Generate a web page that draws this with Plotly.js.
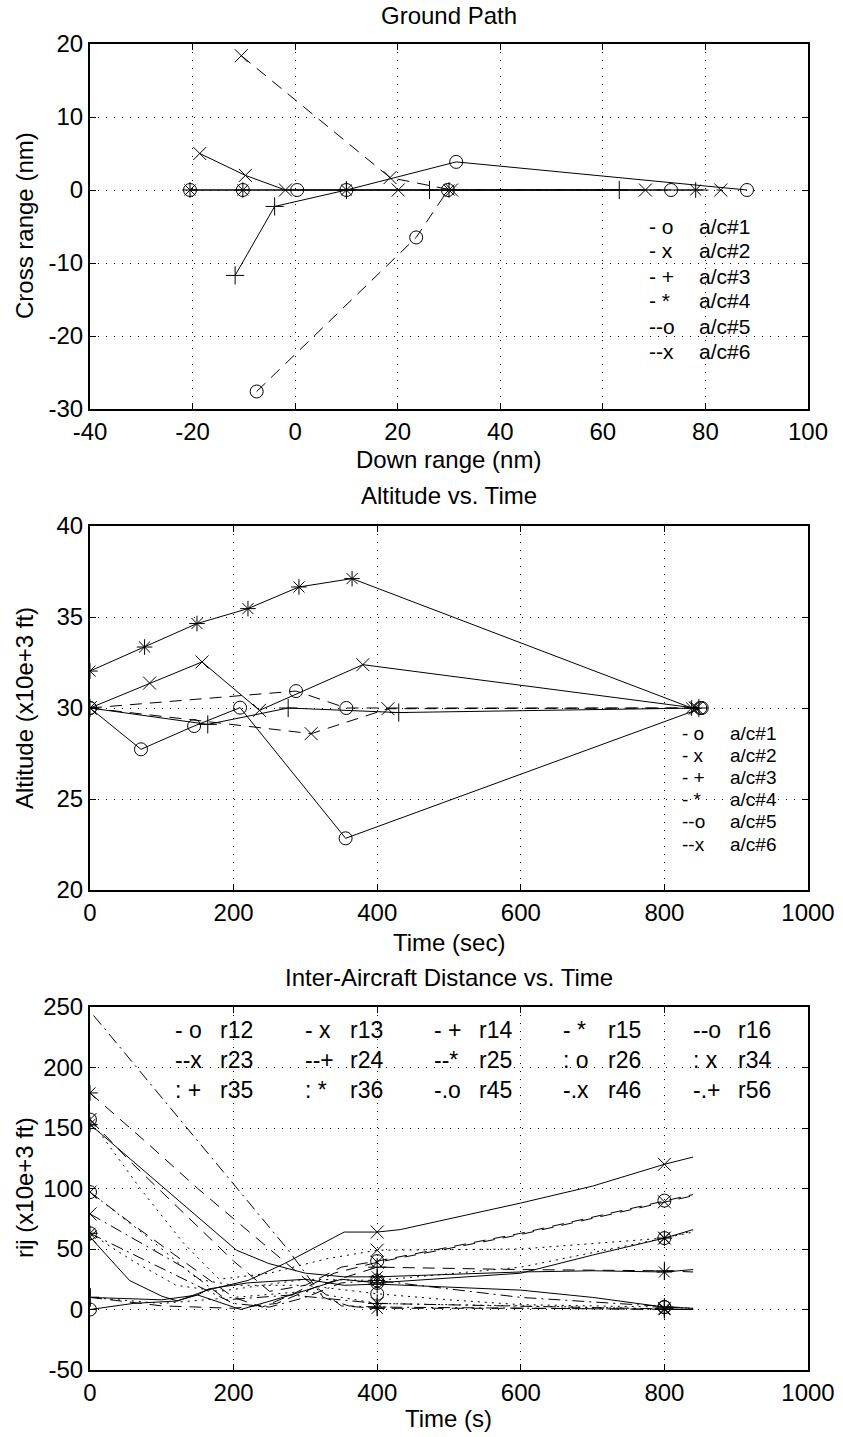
<!DOCTYPE html>
<html><head><meta charset="utf-8">
<script src="https://cdn.plot.ly/plotly-3.0.1.min.js"></script>
<style>html,body{margin:0;padding:0;background:#fff;}#chart{width:843px;height:1437px;}</style>
</head><body><div id="chart"></div>
<script>
// ---------- Ground Path (down range, cross range in nm) ----------
const gp_names = ['a/c#1','a/c#2','a/c#3','a/c#4','a/c#5','a/c#6'];
const gp_codes = ['- o','- x','- +','- *','--o','--x'];
const gp1_x = [-20.5, -10.2, 0.4, 10, 31.4, 88.1];
const gp1_y = [0, 0, 0, 0, 3.85, 0];
const gp2_x = [-18.6, -9.7, -1.9, 20.1, 68.3];
const gp2_y = [5.0, 2.0, 0, 0, 0];
const gp3_x = [-11.7, -4.0, 10, 26.2, 63.2];
const gp3_y = [-11.7, -2.25, 0, 0, 0];
const gp4_x = [-20.5, -10.2, 10, 30, 78.1];
const gp4_y = [0, 0, 0, 0, 0];
const gp5_x = [-7.5, 23.6, 29.8, 73.3];
const gp5_y = [-27.6, -6.5, 0, 0];
const gp6_x = [-10.5, 18.5, 30.5, 83];
const gp6_y = [18.4, 1.7, 0, 0];

// ---------- Altitude vs. Time (sec, x10e+3 ft) ----------
const al1_t = [0, 71, 145, 209, 356, 852];
const al1_h = [30, 27.73, 29.01, 30.02, 22.84, 30];
const al2_t = [0, 83, 156, 236, 380, 843];
const al2_h = [30, 31.37, 32.53, 29.87, 32.38, 30];
const al3_t = [0, 164, 276, 430, 848];
const al3_h = [30, 29.1, 30.0, 29.75, 30];
const al4_t = [0, 76, 149, 220, 291, 365, 838];
const al4_h = [32.03, 33.35, 34.64, 35.46, 36.65, 37.11, 30];
const al5_t = [0, 287, 357, 850];
const al5_h = [30, 30.93, 30.0, 30];
const al6_t = [0, 308, 415, 845];
const al6_h = [30, 28.59, 29.96, 30];

// ---------- Inter-Aircraft Distance vs. Time (s, x10e+3 ft) ----------
const rNames = ['r12','r13','r14','r15','r16','r23','r24','r25','r26','r34','r35','r36','r45','r46','r56'];
const rCodes = ['- o','- x','- +','- *','--o','--x','--+','--*',': o',': x',': +',': *','-.o','-.x','-.+'];
const t_r12 = [0, 60, 120, 150, 210, 280, 350, 400, 600, 700, 800, 840];
const v_r12 = [0, 5, 7, 12, 0, 12, 25, 22, 30, 45, 59, 66];
const t_r13 = [0, 55, 100, 122, 163, 220, 271, 354, 400, 432, 600, 700, 800, 840];
const v_r13 = [60, 24, 11, 7, 16, 24, 38, 64, 64, 66, 88, 102, 120, 126];
const t_r14 = [0, 100, 150, 165, 220, 300, 354, 400, 600, 700, 800, 840];
const v_r14 = [10, 8, 12, 17, 22, 25, 20, 21, 16, 10, 2, 1];
const t_r15 = [0, 100, 204, 249, 300, 354, 400, 500, 600, 700, 800, 840];
const v_r15 = [153, 102, 49, 38, 30, 27, 27, 29, 31, 32, 31, 33];
const t_r16 = [0, 60, 130, 200, 250, 300, 350, 400, 600, 800, 840];
const v_r16 = [157, 120, 80, 40, 15, 20, 35, 40, 63, 90, 95];
const t_r23 = [0, 60, 130, 200, 240, 280, 340, 400, 600, 800, 840];
const v_r23 = [97, 70, 40, 10, 2, 12, 30, 39, 62, 89, 94];
const t_r24 = [0, 100, 200, 260, 320, 400, 600, 800, 840];
const v_r24 = [10, 3, 1, 5, 20, 35, 33, 32, 31];
const t_r25 = [0, 75, 150, 230, 300, 350, 400, 600, 800, 840];
const v_r25 = [179, 140, 100, 60, 25, 3, 1, 1, 0, 0];
const t_r26 = [0, 80, 150, 200, 300, 370, 400, 500, 600, 800, 840];
const v_r26 = [97, 60, 25, 20, 20, 15, 13, 8, 4, 2, 1];
const t_r34 = [0, 70, 130, 180, 250, 330, 400, 600, 800, 840];
const v_r34 = [157, 100, 55, 25, 30, 42, 49, 50, 59, 64];
const t_r35 = [0, 100, 200, 300, 350, 400, 600, 800, 840];
const v_r35 = [10, 5, 10, 15, 10, 5, 3, 1, 0];
const t_r36 = [0, 60, 120, 180, 300, 400, 600, 800, 840];
const v_r36 = [63, 40, 20, 15, 25, 24, 35, 59, 65];
const t_r45 = [0, 80, 150, 200, 250, 300, 350, 400, 600, 800, 840];
const v_r45 = [63, 40, 20, 5, 2, 10, 22, 24, 10, 2, 1];
const t_r46 = [0, 70, 130, 190, 280, 400, 600, 800, 840];
const v_r46 = [79, 55, 35, 8, 12, 5, 3, 1, 0];
const t_r56 = [5, 65, 135, 205, 275, 325, 360, 400, 600, 800, 840];
const v_r56 = [243, 200, 150, 100, 50, 10, 3, 2, 1, 0, 0];
const markTimes = [0, 400, 800];

// ---------- tick labels ----------
const x1Ticks = [-40, -20, 0, 20, 40, 60, 80, 100];
const x1Text = ['-40', '-20', '0', '20', '40', '60', '80', '100'];
const y1Ticks = [-30, -20, -10, 0, 10, 20];
const y1Text = ['-30', '-20', '-10', '0', '10', '20'];
const tTicks = [0, 200, 400, 600, 800, 1000];
const tText = ['0', '200', '400', '600', '800', '1000'];
const y2Ticks = [20, 25, 30, 35, 40];
const y2Text = ['20', '25', '30', '35', '40'];
const y3Ticks = [-50, 0, 50, 100, 150, 200, 250];
const y3Text = ['-50', '0', '50', '100', '150', '200', '250'];

// ---------- styling ----------
const W = 843, H = 1437;
const FONT = 'Liberation Sans, Arial, Helvetica, sans-serif';
const DASH = {'-':'solid', '--':'12px,8px', ':':'2px,5px', '-.':'12px,5px,2px,5px'};
const SYM = {o:'circle-open', x:'x-thin-open', '+':'cross-thin-open', '*':'asterisk-open'};
function parseCode(c){ const m = c.replace(/\s/g,''); const s = m.slice(-1); return {dash: DASH[m.slice(0,-1)], sym: SYM[s]}; }
const px = v => v / W, py = v => 1 - v / H;

function axis(d0, d1, range, tv, tt, anchor, isX){
  return {domain: isX ? [px(d0), px(d1)] : [py(d1), py(d0)], range, anchor,
    tickmode:'array', tickvals: tv, ticktext: tt, ticks:'inside', ticklen:6, tickwidth:1, tickcolor:'#000',
    showline:true, linewidth:2, linecolor:'#000', mirror:'allticks',
    showgrid:true, gridcolor:'#000', gridwidth:1, griddash:'1px,7px', zeroline:false,
    tickfont:{family:FONT, size:24, color:'#000'}, automargin:false, fixedrange:true};
}

const traces = [];
const gpX = [gp1_x, gp2_x, gp3_x, gp4_x, gp5_x, gp6_x], gpY = [gp1_y, gp2_y, gp3_y, gp4_y, gp5_y, gp6_y];
const alT = [al1_t, al2_t, al3_t, al4_t, al5_t, al6_t], alH = [al1_h, al2_h, al3_h, al4_h, al5_h, al6_h];
gp_codes.forEach((c, i) => {
  const s = parseCode(c);
  traces.push({x: gpX[i], y: gpY[i], xaxis:'x', yaxis:'y', mode:'lines+markers', name: gp_names[i],
    line:{color:'#000', width:1, dash:s.dash}, marker:{symbol:s.sym, size:13, color:'#000', line:{color:'#000', width:1}}});
  traces.push({x: alT[i], y: alH[i], xaxis:'x2', yaxis:'y2', mode:'lines+markers', name: gp_names[i],
    line:{color:'#000', width:1, dash:s.dash}, marker:{symbol:s.sym, size:13, color:'#000', line:{color:'#000', width:1}}});
});
const rT = [t_r12,t_r13,t_r14,t_r15,t_r16,t_r23,t_r24,t_r25,t_r26,t_r34,t_r35,t_r36,t_r45,t_r46,t_r56];
const rV = [v_r12,v_r13,v_r14,v_r15,v_r16,v_r23,v_r24,v_r25,v_r26,v_r34,v_r35,v_r36,v_r45,v_r46,v_r56];
rCodes.forEach((c, i) => {
  const s = parseCode(c);
  traces.push({x: rT[i], y: rV[i], xaxis:'x3', yaxis:'y3', mode:'lines', name: rNames[i],
    line:{color:'#000', width:1, dash:s.dash}});
  const mx = [], my = [];
  rT[i].forEach((t, k) => { if (markTimes.includes(t)) { mx.push(t); my.push(rV[i][k]); } });
  traces.push({x: mx, y: my, xaxis:'x3', yaxis:'y3', mode:'markers', name: rNames[i], showlegend:false,
    marker:{symbol:s.sym, size:13, color:'#000', line:{color:'#000', width:1}}});
});

const ann = [];
function txt(text, x, y, size, opts){ ann.push(Object.assign({text, x: px(x), y: py(y), xref:'paper', yref:'paper', showarrow:false,
  font:{family:FONT, size, color:'#000'}, xanchor:'center', yanchor:'middle', borderpad:0}, opts || {})); }
// titles
txt('Ground Path', 449, 16, 24);
txt('Down range (nm)', 449, 460, 24);
txt('Cross range (nm)', 24, 226, 24, {textangle:-90});
txt('Altitude vs. Time', 449, 496, 24);
txt('Time (sec)', 449, 942, 24);
txt('Altitude (x10e+3 ft)', 24, 708, 24, {textangle:-90});
txt('Inter-Aircraft Distance vs. Time', 449, 977, 24);
txt('Time (s)', 449, 1418, 24);
txt('rij (x10e+3 ft)', 24, 1188, 24, {textangle:-90});
// legend of plot 1
gp_codes.forEach((c, i) => { txt(c, 648, 226 + 25 * i, 21, {xanchor:'left'}); txt(gp_names[i], 698, 226 + 25 * i, 21, {xanchor:'left'}); });
// legend of plot 2
gp_codes.forEach((c, i) => { txt(c, 681, 733 + 22.2 * i, 19, {xanchor:'left'}); txt(gp_names[i], 729, 733 + 22.2 * i, 19, {xanchor:'left'}); });
// legend of plot 3 (3 rows x 5 columns)
const colX = [174, 304, 433, 562, 692];
rCodes.forEach((c, i) => { const r = Math.floor(i / 5), k = i % 5;
  txt(c, colX[k], 1030 + 30 * r, 23, {xanchor:'left'}); txt(rNames[i], colX[k] + 45, 1030 + 30 * r, 23, {xanchor:'left'}); });

const layout = {width:W, height:H, margin:{l:0, r:0, t:0, b:0}, paper_bgcolor:'#fff', plot_bgcolor:'#fff', showlegend:false,
  font:{family:FONT, color:'#000'},
  xaxis: axis(90, 808, [-40, 100], x1Ticks, x1Text, 'y', true),
  yaxis: axis(44, 409, [-30, 20], y1Ticks, y1Text, 'x', false),
  xaxis2: axis(90, 808, [0, 1000], tTicks, tText, 'y2', true),
  yaxis2: axis(526, 890, [20, 40], y2Ticks, y2Text, 'x2', false),
  xaxis3: axis(90, 808, [0, 1000], tTicks, tText, 'y3', true),
  yaxis3: axis(1007, 1370, [-50, 250], y3Ticks, y3Text, 'x3', false),
  annotations: ann};
Plotly.newPlot('chart', traces, layout, {staticPlot:true, displayModeBar:false});
</script></body></html>
